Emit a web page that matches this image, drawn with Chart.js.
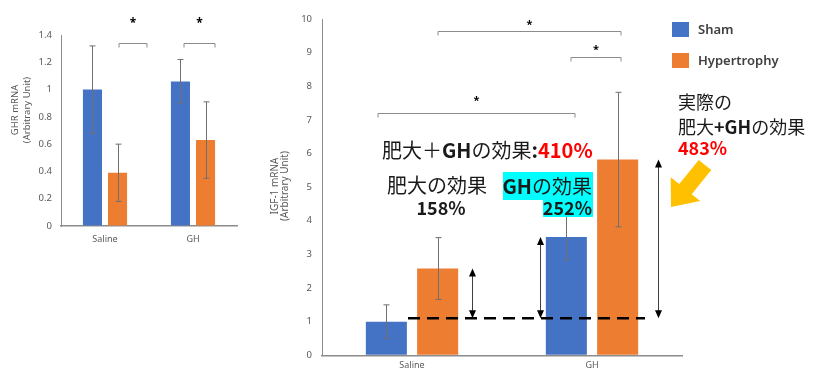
<!DOCTYPE html>
<html>
<head>
<meta charset="utf-8">
<script src="https://cdn.jsdelivr.net/npm/chart.js@4.4.1/dist/chart.umd.min.js"></script>
<style>
    html, body { margin: 0; padding: 0; background: #fff; }
    #stage { position: relative; width: 822px; height: 371px; overflow: hidden; }
    #ghr-wrap { position: absolute; left: 0; top: 0; width: 250px; height: 250px; }
    #igf-wrap { position: absolute; left: 250px; top: 0; width: 572px; height: 371px; }
</style>
</head>
<body>
<div id="stage">
    <div id="ghr-wrap"><canvas id="ghr"></canvas></div>
    <div id="igf-wrap"><canvas id="igf"></canvas></div>
</div>
<script>
// ---- data ----
var categories = ['Saline', 'GH'];
var seriesNames = ['Sham', 'Hypertrophy'];
var seriesColors = ['#4472C4', '#ED7D31'];

// GHR mRNA (left panel)
var ghrSham = [1.00, 1.06];
var ghrShamErr = [0.32, 0.16];
var ghrHyp = [0.39, 0.63];
var ghrHypErr = [0.21, 0.28];
var ghrMax = 1.4, ghrStep = 0.2;

// IGF-1 mRNA (right panel)
var igfSham = [1.00, 3.52];
var igfShamErr = [0.50, 0.68];
var igfHyp = [2.58, 5.82];
var igfHypErr = [0.92, 2.00];
var igfMax = 10, igfStep = 1;
var igfBaseline = 1.1;

var JP = '"Noto Sans CJK JP", "Noto Sans", sans-serif';
var TICK_FONT = '"Noto Sans", "DejaVu Sans", sans-serif';
var GRAY = '#595959';

function makeCanvas(id, w, h) {
    var c = document.getElementById(id);
    c.width = w; c.height = h;
    c.style.width = w + 'px'; c.style.height = h + 'px';
    c.style.display = 'block';
    return c;
}

// Draw error bars for every bar of both datasets
function drawErrorBars(chart, errs, vals) {
    var ctx = chart.ctx, y = chart.scales.y;
    ctx.save();
    ctx.strokeStyle = '#707070';
    ctx.lineWidth = 1;
    for (var d = 0; d < 2; d++) {
        var meta = chart.getDatasetMeta(d);
        for (var i = 0; i < meta.data.length; i++) {
            var x = Math.round(meta.data[i].x) + 0.5;
            var top = y.getPixelForValue(vals[d][i] + errs[d][i]);
            var bot = y.getPixelForValue(vals[d][i] - errs[d][i]);
            ctx.beginPath();
            ctx.moveTo(x, top); ctx.lineTo(x, bot);
            ctx.moveTo(x - 3, top); ctx.lineTo(x + 3, top);
            ctx.moveTo(x - 3, bot); ctx.lineTo(x + 3, bot);
            ctx.stroke();
        }
    }
    ctx.restore();
}

// Significance bracket with a star above it
function drawBracket(ctx, x1, x2, y, starY, starSize) {
    ctx.save();
    ctx.strokeStyle = '#8C8C8C';
    ctx.lineWidth = 1;
    y = Math.round(y) + 0.5;
    ctx.beginPath();
    ctx.moveTo(x1, y + 4); ctx.lineTo(x1, y); ctx.lineTo(x2, y); ctx.lineTo(x2, y + 4);
    ctx.stroke();
    ctx.fillStyle = '#000';
    ctx.font = 'bold ' + starSize + 'px ' + TICK_FONT;
    ctx.textAlign = 'center';
    ctx.textBaseline = 'middle';
    ctx.fillText('*', (x1 + x2) / 2, starY + starSize * 0.2);
    ctx.restore();
}

function drawRotatedTitle(ctx, lines, xs, cy, size) {
    ctx.save();
    ctx.fillStyle = GRAY;
    ctx.font = size + 'px ' + TICK_FONT;
    ctx.textAlign = 'center';
    ctx.textBaseline = 'middle';
    for (var i = 0; i < lines.length; i++) {
        ctx.save();
        ctx.translate(xs[i], cy);
        ctx.rotate(-Math.PI / 2);
        ctx.fillText(lines[i], 0, 0);
        ctx.restore();
    }
    ctx.restore();
}

// Text made of pieces in different fonts/colours
function drawRich(ctx, x, y, parts, align) {
    var total = 0, i;
    for (i = 0; i < parts.length; i++) {
        ctx.font = parts[i].font;
        parts[i].w = ctx.measureText(parts[i].text).width;
        total += parts[i].w;
    }
    var cx = align === 'right' ? x - total : (align === 'center' ? x - total / 2 : x);
    ctx.textAlign = 'left';
    ctx.textBaseline = 'middle';
    for (i = 0; i < parts.length; i++) {
        ctx.font = parts[i].font;
        ctx.fillStyle = parts[i].color || '#1A1A1A';
        ctx.fillText(parts[i].text, cx, y);
        cx += parts[i].w;
    }
}

// Vertical double-headed arrow between two pixel heights
function drawDoubleArrow(ctx, x, yTop, yBot) {
    x = Math.round(x) + 0.5;
    ctx.save();
    ctx.strokeStyle = '#404040';
    ctx.lineWidth = 1;
    ctx.beginPath();
    ctx.moveTo(x, yTop + 6); ctx.lineTo(x, yBot - 6);
    ctx.stroke();
    ctx.fillStyle = '#000';
    ctx.beginPath();
    ctx.moveTo(x, yTop); ctx.lineTo(x - 3.5, yTop + 8); ctx.lineTo(x + 3.5, yTop + 8); ctx.closePath();
    ctx.moveTo(x, yBot); ctx.lineTo(x - 3.5, yBot - 8); ctx.lineTo(x + 3.5, yBot - 8); ctx.closePath();
    ctx.fill();
    ctx.restore();
}

function baseScales(max, step, tickSize, yWidth, xHeight, yPad, xPad) {
    return {
        x: {
            grid: { display: true, drawOnChartArea: false, drawTicks: false },
            border: { display: true, color: '#8C8C8C', width: 1.5 },
            ticks: { color: GRAY, font: { family: TICK_FONT, size: tickSize - 0.5 }, padding: xPad },
            afterFit: function(s) { s.height = xHeight; }
        },
        y: {
            min: 0, max: max,
            grid: { display: true, drawOnChartArea: false, drawTicks: false },
            border: { display: true, color: '#8C8C8C', width: 1 },
            ticks: {
                stepSize: step, color: GRAY, padding: yPad,
                font: { family: TICK_FONT, size: tickSize },
                callback: function(v) { return Math.round(v * 10) / 10; }
            },
            afterFit: function(s) { s.width = yWidth; }
        }
    };
}

function barDatasets(a, b, barPct, catPct) {
    return [a, b].map(function(vals, i) {
        return {
            label: seriesNames[i], data: vals, backgroundColor: seriesColors[i],
            borderWidth: 0, barPercentage: barPct, categoryPercentage: catPct
        };
    });
}

// ---- left panel: GHR ----
var ghrPlugin = {
    id: 'ghrExtras',
    afterDatasetsDraw: function(chart) {
        var ctx = chart.ctx, x = chart.scales.x, y = chart.scales.y;
        drawErrorBars(chart, [ghrShamErr, ghrHypErr], [ghrSham, ghrHyp]);
        var c0 = x.getPixelForValue(0), c1 = x.getPixelForValue(1);
        drawBracket(ctx, c0 + 14, c0 + 42, y.getPixelForValue(1.34), 21, 12);
        drawBracket(ctx, c1 - 9, c1 + 22, y.getPixelForValue(1.34), 21, 12);
        drawRotatedTitle(ctx, ['GHR mRNA', '(Arbitrary Unit)'], [15, 27], 110, 9.5);
    }
};

new Chart(makeCanvas('ghr', 250, 250), {
    type: 'bar',
    data: { labels: categories, datasets: barDatasets(ghrSham, ghrHyp, 0.76, 0.57) },
    options: {
        responsive: false, animation: false,
        layout: { padding: { left: 0, top: 35, right: 13, bottom: 0 } },
        plugins: { legend: { display: false }, tooltip: { enabled: false } },
        scales: baseScales(ghrMax, ghrStep, 9.5, 61, 24, 9, 8)
    },
    plugins: [ghrPlugin]
});

// ---- right panel: IGF-1 ----
var igfPlugin = {
    id: 'igfExtras',
    afterDatasetsDraw: function(chart) {
        var ctx = chart.ctx, x = chart.scales.x, y = chart.scales.y;
        var c0 = x.getPixelForValue(0), c1 = x.getPixelForValue(1);
        var yBase = y.getPixelForValue(igfBaseline);

        drawErrorBars(chart, [igfShamErr, igfHypErr], [igfSham, igfHyp]);

        // dashed baseline at the Sham/Saline level
        ctx.save();
        ctx.strokeStyle = '#000';
        ctx.lineWidth = 2.5;
        ctx.setLineDash([12, 7]);
        ctx.beginPath();
        ctx.moveTo(c0 - 4, yBase); ctx.lineTo(c1 + 53, yBase);
        ctx.stroke();
        ctx.restore();

        // effect arrows
        drawDoubleArrow(ctx, c0 + 60, y.getPixelForValue(igfHyp[0]), yBase);
        drawDoubleArrow(ctx, c1 - 52, y.getPixelForValue(igfSham[1]), yBase);
        drawDoubleArrow(ctx, c1 + 66, y.getPixelForValue(igfHyp[1]), yBase);

        // significance brackets
        drawBracket(ctx, c0 + 26, c1 + 29, y.getPixelForValue(9.64), 23, 11);
        drawBracket(ctx, c1 - 21, c1 + 29, y.getPixelForValue(8.87), 48, 11);
        drawBracket(ctx, c0 - 34, c1 - 17, y.getPixelForValue(7.2), 99, 11);

        // axis title
        drawRotatedTitle(ctx, ['IGF-1 mRNA', '(Arbitrary Unit)'], [25, 35], 186, 10);

        // annotation texts
        var reg = '20px ' + JP, bold = 'bold 20px ' + JP, num = 'bold 18px ' + JP;
        drawRich(ctx, 132, 150, [
            { text: '肥大＋', font: reg }, { text: 'GH', font: bold },
            { text: 'の効果', font: reg }, { text: ':', font: bold },
            { text: '410%', font: bold, color: '#FF0000' }
        ], 'left');
        drawRich(ctx, 137, 185, [{ text: '肥大の効果', font: reg }], 'left');
        drawRich(ctx, 191, 208, [{ text: '158%', font: num }], 'center');

        ctx.fillStyle = '#00FFFF';
        ctx.fillRect(253, 172, 90, 28);
        ctx.fillRect(293, 199, 50, 18);
        drawRich(ctx, 342, 186, [{ text: 'GH', font: bold }, { text: 'の効果', font: reg }], 'right');
        drawRich(ctx, 342, 208, [{ text: '252%', font: num }], 'right');

        var r2 = '18px ' + JP, b2 = 'bold 18px ' + JP;
        drawRich(ctx, 428, 102, [{ text: '実際の', font: r2 }], 'left');
        drawRich(ctx, 428, 127, [
            { text: '肥大', font: r2 }, { text: '+GH', font: b2 }, { text: 'の効果', font: r2 }
        ], 'left');
        drawRich(ctx, 428, 148, [{ text: '483%', font: b2, color: '#FF0000' }], 'left');

        // yellow block arrow
        var tail = [455, 165], tip = [421, 207];
        var dx = tip[0] - tail[0], dy = tip[1] - tail[1], len = Math.sqrt(dx * dx + dy * dy);
        var ux = dx / len, uy = dy / len, nx = -uy, ny = ux;
        var nk = [tip[0] - ux * 23, tip[1] - uy * 23];
        ctx.fillStyle = '#FFC000';
        ctx.beginPath();
        ctx.moveTo(tail[0] + nx * 8, tail[1] + ny * 8);
        ctx.lineTo(nk[0] + nx * 8, nk[1] + ny * 8);
        ctx.lineTo(nk[0] + nx * 19, nk[1] + ny * 19);
        ctx.lineTo(tip[0], tip[1]);
        ctx.lineTo(nk[0] - nx * 19, nk[1] - ny * 19);
        ctx.lineTo(nk[0] - nx * 8, nk[1] - ny * 8);
        ctx.lineTo(tail[0] - nx * 8, tail[1] - ny * 8);
        ctx.closePath();
        ctx.fill();

        // legend
        for (var i = 0; i < seriesNames.length; i++) {
            var ly = 22 + i * 31;
            ctx.fillStyle = seriesColors[i];
            ctx.fillRect(422, ly, 17, 15);
            drawRich(ctx, 448, ly + 8, [{ text: seriesNames[i], font: '600 13px "Noto Sans", sans-serif', color: '#404040' }], 'left');
        }
    }
};

new Chart(makeCanvas('igf', 572, 371), {
    type: 'bar',
    data: { labels: categories, datasets: barDatasets(igfSham, igfHyp, 0.8, 0.57) },
    options: {
        responsive: false, animation: false,
        layout: { padding: { left: 0, top: 19, right: 140, bottom: 0 } },
        plugins: { legend: { display: false }, tooltip: { enabled: false } },
        scales: baseScales(igfMax, igfStep, 9.5, 72, 15, 10, 5)
    },
    plugins: [igfPlugin]
});
</script>
</body>
</html>
